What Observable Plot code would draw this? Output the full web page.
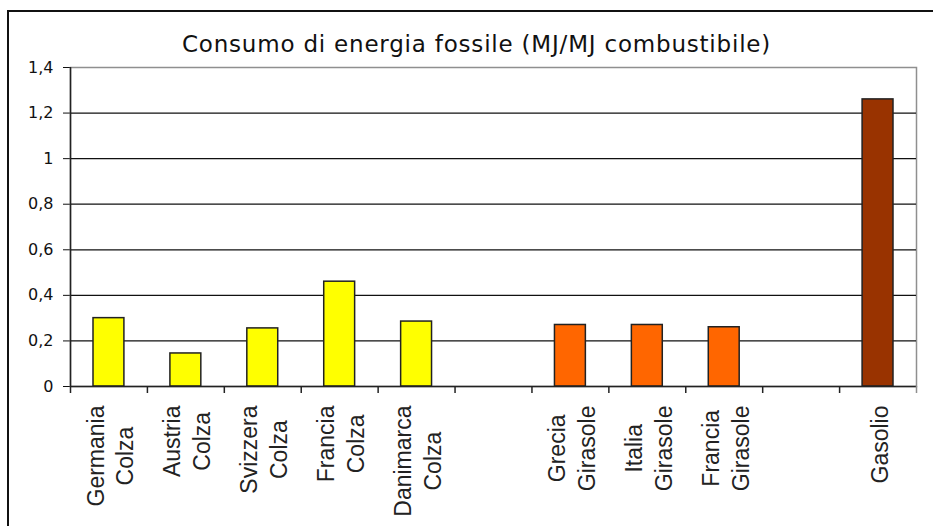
<!DOCTYPE html>
<html>
<head>
<meta charset="utf-8">
<script src="https://cdn.jsdelivr.net/npm/d3@7"></script>
<script src="https://cdn.jsdelivr.net/npm/@observablehq/plot@0.6"></script>
<style>
  html, body { margin: 0; padding: 0; background: #fff; overflow: hidden; }
  #box { position: absolute; left: 7px; top: 10px; width: 1000px; height: 600px;
         border-left: 2px solid #111; border-top: 2px solid #111; }
  #title { position: absolute; left: 8px; top: 31px; width: 937px; text-align: center;
           font-family: "DejaVu Sans", sans-serif; font-size: 23px; line-height: 26px;
           letter-spacing: 0.8px; color: #111; }
  #chart { position: absolute; left: 0; top: 0; }
</style>
</head>
<body>
<div id="box"></div>
<div id="title">Consumo di energia fossile (MJ/MJ combustibile)</div>
<div id="chart"></div>
<script>
// Fossil energy use per MJ of fuel, by country and crop
const countries = ["Germania", "Austria", "Svizzera", "Francia", "Danimarca", "Grecia", "Italia", "Francia", "Gasolio"];
const crops     = ["Colza", "Colza", "Colza", "Colza", "Colza", "Girasole", "Girasole", "Girasole", ""];
const values    = [0.30, 0.145, 0.255, 0.46, 0.285, 0.27, 0.27, 0.26, 1.26];
const groups    = ["Colza", "Colza", "Colza", "Colza", "Colza", "Girasole", "Girasole", "Girasole", "Gasolio"];

const groupNames  = ["Colza", "Girasole", "Gasolio"];
const groupColors = ["#ffff00", "#ff6600", "#993300"];

const yTickValues = [0, 0.2, 0.4, 0.6, 0.8, 1, 1.2, 1.4];
const yTickLabels = ["0", "0,2", "0,4", "0,6", "0,8", "1", "1,2", "1,4"];
const gridValues  = [0.2, 0.4, 0.6, 0.8, 1, 1.2];

const labels = countries.map((c, i) => crops[i] ? c + "\n" + crops[i] : c);
const rows = labels.map((label, i) => ({label, value: values[i], group: groups[i]}));

// x slots: two empty slots separate the three groups
const slots = [...labels.slice(0, 5), "gap-a", ...labels.slice(5, 8), "gap-b", labels[8]];

const W = 933, H = 526;
const mL = 70, mR = 17, mT = 67, mB = 140;
const step = (W - mL - mR) / slots.length;

const labelFont = 23;
const ctx = document.createElement("canvas").getContext("2d");
ctx.font = `${labelFont}px "Liberation Sans"`;
const longest = s => Math.max(...s.split("\n").map(t => ctx.measureText(t).width));

const labelMarks = rows.map(d => Plot.text([d], {
  x: "label", y: () => 0, text: "label",
  rotate: -90, textAnchor: "middle", lineAnchor: "middle", lineHeight: 1.3,
  fontFamily: "Liberation Sans", fontSize: labelFont, fill: "#222",
  dy: 19 + longest(d.label) / 2
}));

const chart = Plot.plot({
  width: W, height: H,
  marginLeft: mL, marginRight: mR, marginTop: mT, marginBottom: mB,
  style: {fontFamily: "DejaVu Sans", fontSize: "16px", color: "#111", background: "transparent"},
  x: {domain: slots, padding: 0, round: false, axis: null},
  y: {domain: [0, 1.4], ticks: yTickValues, tickFormat: d => yTickLabels[yTickValues.indexOf(d)],
      tickSize: 7, tickPadding: 10, label: null},
  color: {domain: groupNames, range: groupColors},
  marks: [
    Plot.frame({stroke: "#8f8f8f", strokeWidth: 1.5}),
    Plot.ruleY(gridValues, {stroke: "#111", strokeWidth: 1.3}),
    Plot.barY(rows, {x: "label", y: "value", fill: "group", stroke: "#222", strokeWidth: 1.5,
                     insetLeft: 23, insetRight: 23}),
    Plot.ruleY([0], {stroke: "#222", strokeWidth: 1.5}),
    // slot boundary ticks below the baseline
    Plot.ruleX(slots, {x: d => d, y1: () => 0, y2: () => 0, insetBottom: -7,
                       dx: -step / 2, stroke: "#222", strokeWidth: 1.5}),
    Plot.ruleX(slots.slice(-1), {x: d => d, y1: () => 0, y2: () => 0, insetBottom: -7,
                       dx: step / 2, stroke: "#8f8f8f", strokeWidth: 1.5}),
    // left axis line
    Plot.ruleX(slots.slice(0, 1), {x: d => d, y1: () => 0, y2: () => 1.4,
                       dx: -step / 2, stroke: "#222", strokeWidth: 1.5}),
    ...labelMarks
  ]
});
document.getElementById("chart").appendChild(chart);
</script>
</body>
</html>
